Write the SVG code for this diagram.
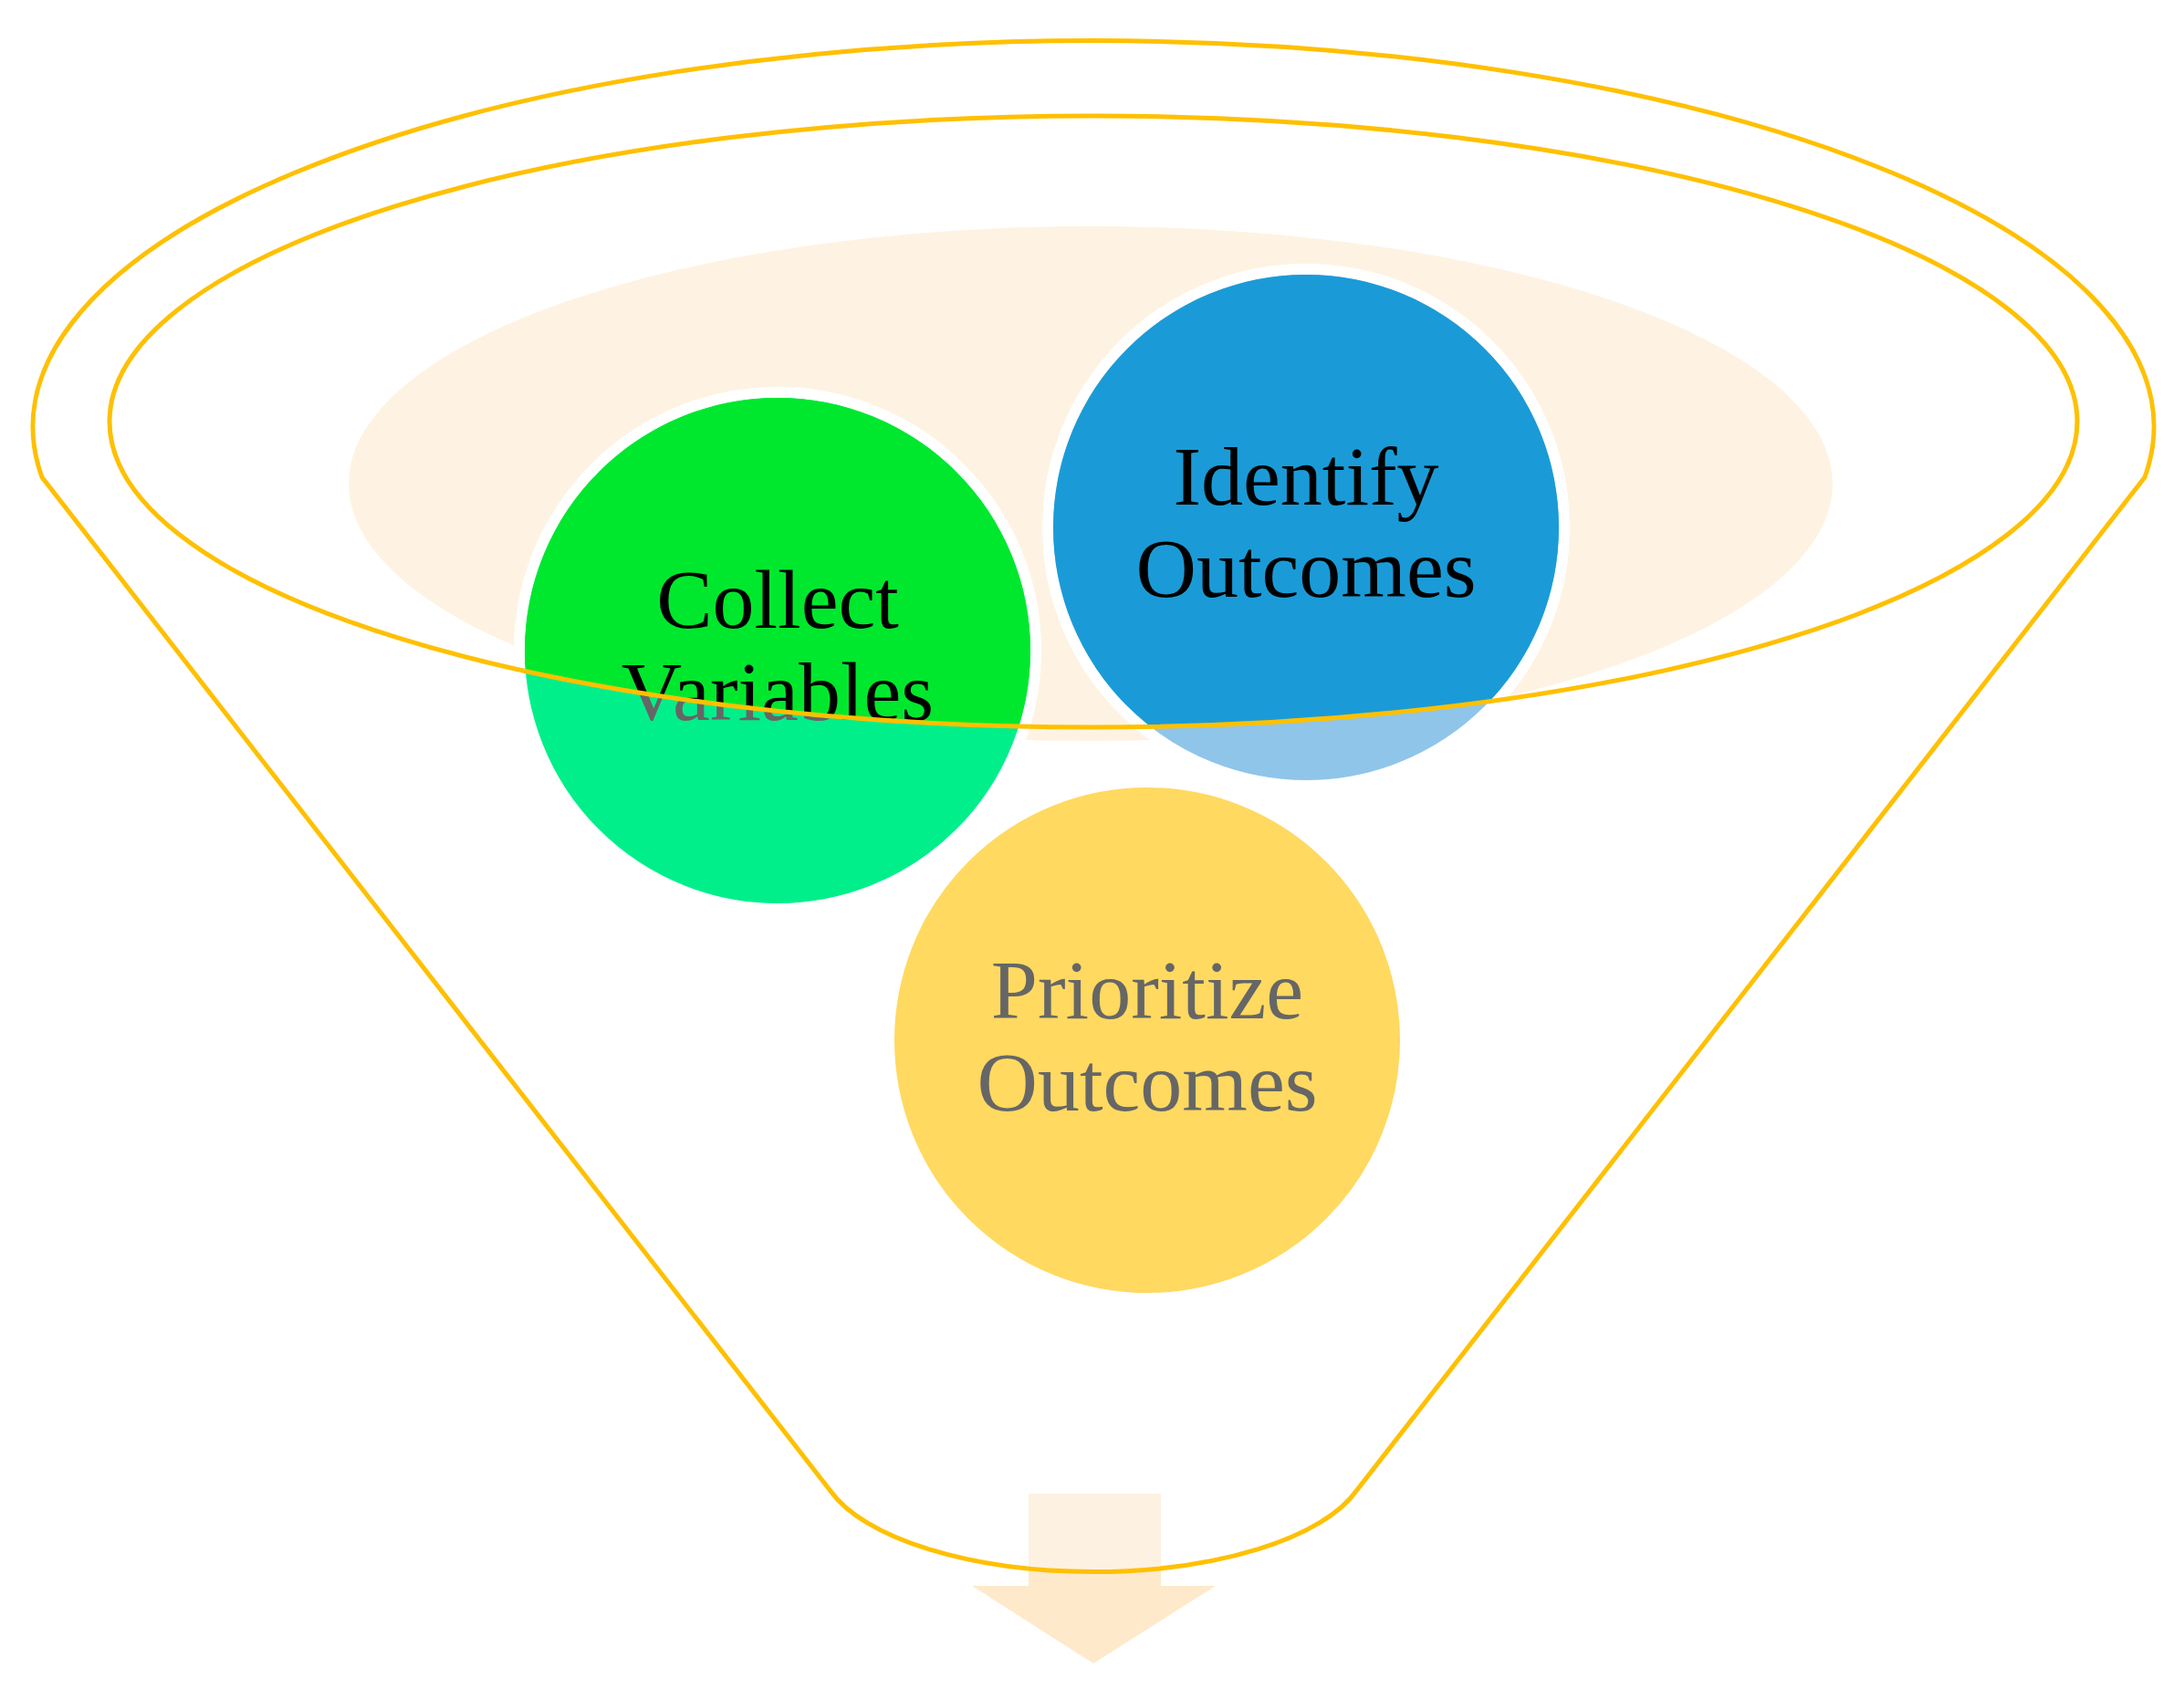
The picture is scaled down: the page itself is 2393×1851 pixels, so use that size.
<svg xmlns="http://www.w3.org/2000/svg" width="2393" height="1851" viewBox="0 0 2393 1851">
<style>
.funnel{fill:none;stroke:#FFC000;stroke-width:5}
.ring{stroke:#FFFFFF;stroke-width:12}
.lbl{font-family:"Liberation Serif","Times New Roman",serif;font-size:92px;text-anchor:middle}
.dark{fill:#000000}
.gray{fill:#666666}
</style>
<defs>
<clipPath id="bowl"><ellipse cx="1198" cy="462" rx="1078" ry="335"/></clipPath>
<clipPath id="funnelIn"><path d="M 910 1634 L 46 523 A 1162 423 0 1 1 2350 523 L 1486 1634 A 300 123 0 0 1 910 1634 Z"/></clipPath>
</defs>
<rect width="2393" height="1851" fill="#FFFFFF"/>
<g id="arrow">
<polygon points="1127,1637 1272,1637 1272,1738 1332,1738 1198,1823 1065,1738 1127,1738" fill="#FEE9CB"/>
<polygon points="1127,1637 1272,1637 1272,1738 1332,1738 1198,1823 1065,1738 1127,1738" fill="#FDF1E1" clip-path="url(#funnelIn)"/>
</g>
<g id="bowl-fill">
<ellipse cx="1195" cy="530" rx="813" ry="282" fill="#FEF3E3"/>
</g>
<g id="node-collect">
<circle cx="852" cy="713" r="283" fill="#00EF8A" class="ring"/>
<text class="lbl gray" x="852" y="688">Collect</text>
<text class="lbl gray" x="852" y="789">Variables</text>
<g clip-path="url(#bowl)">
<circle cx="852" cy="713" r="277" fill="#00E82D"/>
<text class="lbl dark" x="852" y="688">Collect</text>
<text class="lbl dark" x="852" y="789">Variables</text>
</g>
</g>
<g id="node-identify">
<circle cx="1431" cy="578" r="283" fill="#8FC5E9" class="ring"/>
<g clip-path="url(#bowl)">
<circle cx="1431" cy="578" r="277" fill="#1A9BD7"/>
</g>
<text class="lbl dark" x="1431" y="553">Identify</text>
<text class="lbl dark" x="1431" y="654">Outcomes</text>
</g>
<g id="node-prioritize">
<circle cx="1257" cy="1140" r="283" fill="#FFD960" class="ring"/>
<text class="lbl gray" x="1257" y="1116">Prioritize</text>
<text class="lbl gray" x="1257" y="1217">Outcomes</text>
</g>
<g id="connectors">
<ellipse class="funnel" cx="1198" cy="462" rx="1078" ry="335"/>
<path class="funnel" d="M 910 1634 L 46 523 A 1162 423 0 1 1 2350 523 L 1486 1634 A 300 123 0 0 1 910 1634 Z"/>
</g>
</svg>
